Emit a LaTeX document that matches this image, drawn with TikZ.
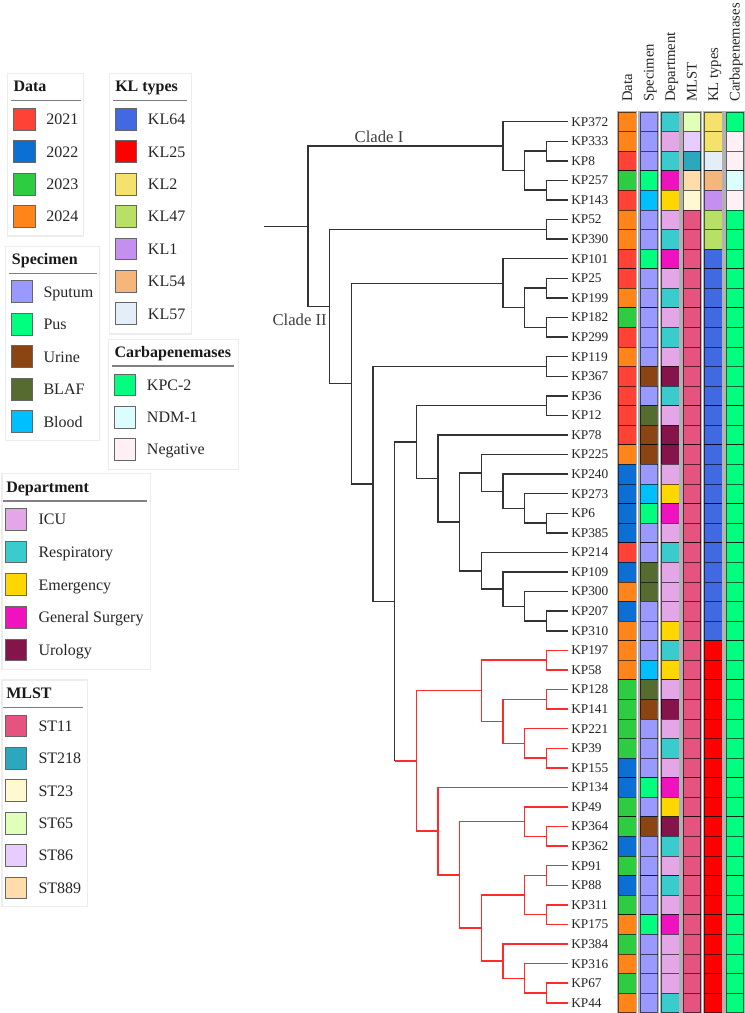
\documentclass[tikz,border=0pt]{standalone}
\usepackage{fontspec}
\setmainfont{Liberation Serif}
\definecolor{y21}{HTML}{FF4136}
\definecolor{y22}{HTML}{0B6FD4}
\definecolor{y23}{HTML}{2ECC40}
\definecolor{y24}{HTML}{FF851B}
\definecolor{sSp}{HTML}{9999FF}
\definecolor{sPu}{HTML}{00FF7F}
\definecolor{sUr}{HTML}{8B4513}
\definecolor{sBA}{HTML}{556B2F}
\definecolor{sBl}{HTML}{00BFFF}
\definecolor{dIC}{HTML}{E3A6E6}
\definecolor{dRe}{HTML}{3ACCCC}
\definecolor{dEm}{HTML}{FFD700}
\definecolor{dGS}{HTML}{F012BE}
\definecolor{dUr}{HTML}{85144B}
\definecolor{m11}{HTML}{E55480}
\definecolor{m218}{HTML}{2CA7BE}
\definecolor{m23}{HTML}{FFF8D0}
\definecolor{m65}{HTML}{E1FFB8}
\definecolor{m86}{HTML}{E6CCFF}
\definecolor{m889}{HTML}{FFDCAA}
\definecolor{k64}{HTML}{4169E1}
\definecolor{k25}{HTML}{FF0000}
\definecolor{k2}{HTML}{F4E26C}
\definecolor{k47}{HTML}{B8E066}
\definecolor{k1}{HTML}{C490F0}
\definecolor{k54}{HTML}{F4B67A}
\definecolor{k57}{HTML}{E3EEF9}
\definecolor{cK}{HTML}{00FF7F}
\definecolor{cN}{HTML}{DCFDFD}
\definecolor{cNg}{HTML}{FFF0F5}
\definecolor{treedark}{HTML}{333333}
\definecolor{treered}{HTML}{FF2B2B}
\begin{document}
\begin{tikzpicture}[x=0.75pt,y=-0.75pt,
  br/.style={draw=treedark,line width=1.1pt},
  rbr/.style={draw=treered,line width=1.1pt},
  leaf/.style={anchor=west,inner sep=0pt,text=black!85,font=\fontsize{10}{12}\selectfont},
  cell/.style={draw=black,draw opacity=0.6,line width=0.45pt},
  colframe/.style={draw=black!30,line width=1.1pt},
  colhead/.style={rotate=90,anchor=base west,inner sep=0pt,text=black!85,font=\fontsize{11}{13}\selectfont},
  clade/.style={inner sep=0pt,text=black!75,font=\fontsize{12.5}{14}\selectfont},
  lgbox/.style={draw=black!7,line width=0.8pt},
  lgline/.style={draw=black!50,line width=0.9pt},
  lgsq/.style={draw=black!60,line width=0.5pt},
  lgtext/.style={anchor=base west,inner sep=0pt,text=black!85,font=\fontsize{12}{14}\selectfont},
  lgtitle/.style={anchor=base west,inner sep=0pt,text=black!90,font=\fontsize{12}{14}\selectfont\bfseries}]
\fill[white] (0,0) rectangle (744,1013);
\path[use as bounding box] (0,0) rectangle (744,1013);

% ---------- rows: labels and heatmap ----------
\foreach \vlab/\vyr/\vsp/\vdep/\vml/\vkl/\vcb [count=\vn] in {
KP372/y24/sSp/dRe/m65/k2/cK,
KP333/y24/sSp/dIC/m86/k2/cNg,
KP8/y21/sSp/dRe/m218/k57/cNg,
KP257/y23/sPu/dGS/m889/k54/cN,
KP143/y21/sBl/dEm/m23/k1/cNg,
KP52/y24/sSp/dIC/m11/k47/cK,
KP390/y24/sSp/dRe/m11/k47/cK,
KP101/y21/sPu/dGS/m11/k64/cK,
KP25/y21/sSp/dIC/m11/k64/cK,
KP199/y24/sSp/dRe/m11/k64/cK,
KP182/y23/sSp/dIC/m11/k64/cK,
KP299/y21/sSp/dRe/m11/k64/cK,
KP119/y24/sSp/dIC/m11/k64/cK,
KP367/y21/sUr/dUr/m11/k64/cK,
KP36/y21/sSp/dRe/m11/k64/cK,
KP12/y21/sBA/dIC/m11/k64/cK,
KP78/y21/sUr/dUr/m11/k64/cK,
KP225/y24/sUr/dUr/m11/k64/cK,
KP240/y22/sSp/dIC/m11/k64/cK,
KP273/y22/sBl/dEm/m11/k64/cK,
KP6/y22/sPu/dGS/m11/k64/cK,
KP385/y22/sSp/dIC/m11/k64/cK,
KP214/y21/sSp/dRe/m11/k64/cK,
KP109/y22/sBA/dIC/m11/k64/cK,
KP300/y24/sBA/dIC/m11/k64/cK,
KP207/y22/sSp/dIC/m11/k64/cK,
KP310/y24/sSp/dEm/m11/k64/cK,
KP197/y24/sSp/dRe/m11/k25/cK,
KP58/y24/sBl/dEm/m11/k25/cK,
KP128/y23/sBA/dIC/m11/k25/cK,
KP141/y23/sUr/dUr/m11/k25/cK,
KP221/y23/sSp/dIC/m11/k25/cK,
KP39/y23/sSp/dRe/m11/k25/cK,
KP155/y22/sSp/dIC/m11/k25/cK,
KP134/y22/sPu/dGS/m11/k25/cK,
KP49/y23/sSp/dEm/m11/k25/cK,
KP364/y23/sUr/dUr/m11/k25/cK,
KP362/y22/sSp/dRe/m11/k25/cK,
KP91/y23/sSp/dIC/m11/k25/cK,
KP88/y22/sSp/dRe/m11/k25/cK,
KP311/y23/sSp/dIC/m11/k25/cK,
KP175/y24/sPu/dGS/m11/k25/cK,
KP384/y23/sSp/dIC/m11/k25/cK,
KP316/y24/sSp/dIC/m11/k25/cK,
KP67/y23/sSp/dIC/m11/k25/cK,
KP44/y24/sSp/dRe/m11/k25/cK} {
  \pgfmathsetmacro\vyy{121.7+19.58*(\vn-1)}
  \node[leaf] (\vlab) at (571,\vyy) {\vlab};
  \coordinate (t\vlab) at (568,\vyy);
  \foreach \vcol [count=\vk from 0] in {\vyr,\vsp,\vdep,\vml,\vkl,\vcb} {
    \pgfmathsetmacro\vxx{618.3+21.54*\vk}
    \filldraw[fill=\vcol,cell] (\vxx,\vyy-9.79) rectangle (\vxx+17.6,\vyy+9.79);
  }
}
% column frames and headers
\foreach \vhd [count=\vk from 0] in {Data,Specimen,Department,MLST,KL types,Carbapenemases} {
  \pgfmathsetmacro\vxx{618.3+21.54*\vk}
  \draw[colframe] (\vxx-0.8,111.5) rectangle (\vxx+18.4,1014);
  \node[colhead] (h\vk) at (\vxx+13.7,102) {\vhd};
}

% ---------- tree ----------
\coordinate (root) at (308,226.34);
\coordinate (stub) at (264,226.34);
\coordinate (CI) at (503,146.18);
\coordinate (c1c) at (524.67,170.65);
\coordinate (c1a) at (546.33,151.07);
\coordinate (c1b) at (546.33,190.23);
\coordinate (CII) at (329.67,306.50);
\coordinate (p52) at (546.33,229.39);
\coordinate (N2) at (351.33,383.60);
\coordinate (A) at (503,283.24);
\coordinate (a3) at (524.67,307.71);
\coordinate (a1) at (546.33,288.13);
\coordinate (a2) at (546.33,327.29);
\coordinate (N3) at (373,483.97);
\coordinate (p119) at (546.33,366.45);
\coordinate (N4) at (394.67,601.49);
\coordinate (N5) at (416.33,442.02);
\coordinate (p36) at (546.33,405.61);
\coordinate (N6) at (438,478.42);
\coordinate (N7) at (459.67,521.87);
\coordinate (N8) at (481.33,472.92);
\coordinate (N10) at (503,491.27);
\coordinate (N11) at (524.67,508.41);
\coordinate (N12) at (546.33,523.09);
\coordinate (N9) at (481.33,570.82);
\coordinate (N13) at (503,589.17);
\coordinate (N14) at (524.67,606.31);
\coordinate (N15) at (546.33,620.99);
\coordinate (R) at (416.33,760.95);
\coordinate (R1) at (481.33,690.74);
\coordinate (r197) at (546.33,660.15);
\coordinate (R3) at (503,721.34);
\coordinate (r128) at (546.33,699.31);
\coordinate (R4) at (524.67,743.37);
\coordinate (r39) at (546.33,758.05);
\coordinate (R2) at (438,831.17);
\coordinate (R5) at (459.67,874.92);
\coordinate (R6) at (524.67,821.69);
\coordinate (r364) at (546.33,836.37);
\coordinate (R7) at (481.33,928.15);
\coordinate (R8) at (524.67,895.11);
\coordinate (r91) at (546.33,875.53);
\coordinate (r311) at (546.33,914.69);
\coordinate (R9) at (503,961.19);
\coordinate (R10) at (524.67,978.33);
\coordinate (r67) at (546.33,993.01);

\draw[br] (stub) -- (root);
\foreach \vp/\vc in {root/CI,root/CII,CI/tKP372,CI/c1c,c1c/c1a,c1c/c1b,
  c1a/tKP333,c1a/tKP8,c1b/tKP257,c1b/tKP143,CII/p52,CII/N2,p52/tKP52,p52/tKP390,
  N2/A,N2/N3,A/tKP101,A/a3,a3/a1,a3/a2,a1/tKP25,a1/tKP199,a2/tKP182,a2/tKP299,
  N3/p119,N3/N4,p119/tKP119,p119/tKP367,N4/N5,N5/p36,N5/N6,p36/tKP36,p36/tKP12,
  N6/tKP78,N6/N7,N7/N8,N7/N9,N8/tKP225,N8/N10,N10/tKP240,N10/N11,N11/tKP273,
  N11/N12,N12/tKP6,N12/tKP385,N9/tKP214,N9/N13,N13/tKP109,N13/N14,N14/tKP300,
  N14/N15,N15/tKP207,N15/tKP310}
  \draw[br] (\vp) |- (\vc);
\draw[br] (N4) -- (N4 |- R);
\draw[rbr] (N4 |- R) -- (R);
\foreach \vp/\vc in {R/R1,R/R2,R1/r197,R1/R3,r197/tKP197,r197/tKP58,R3/r128,R3/R4,
  r128/tKP128,r128/tKP141,R4/tKP221,R4/r39,r39/tKP39,r39/tKP155,R2/tKP134,R2/R5,
  R5/R6,R5/R7,R6/tKP49,R6/r364,r364/tKP364,r364/tKP362,R7/R8,R7/R9,R8/r91,R8/r311,
  r91/tKP91,r91/tKP88,r311/tKP311,r311/tKP175,R9/tKP384,R9/R10,R10/tKP316,R10/r67,
  r67/tKP67,r67/tKP44}
  \draw[rbr] (\vp) |- (\vc);

\node[clade] (cladeI) at (379,137) {Clade I};
\node[clade,anchor=east] (cladeII) at (327,320) {Clade II};

% ---------- legends ----------
% Data
\draw[lgbox] (7.3,73.3) rectangle (83.3,236);
\node[lgtitle] (tData) at (13.3,92) {Data};
\draw[lgline] (11,100.7) -- (80.7,100.7);
\foreach \vnm/\vcol [count=\vi from 0] in {2021/y21,2022/y22,2023/y23,2024/y24} {
  \pgfmathsetmacro\vyc{119.2+32.4*\vi}
  \filldraw[fill=\vcol,lgsq] (13.3,\vyc-10.85) rectangle ++(21.7,21.7);
  \node[lgtext] (ld\vi) at (46,\vyc+5.5) {\vnm};
}
% KL types
\draw[lgbox] (109.3,73.3) rectangle (191.7,334);
\node[lgtitle] (tKL) at (115,92) {KL types};
\draw[lgline] (113.3,100.7) -- (187.3,100.7);
\foreach \vnm/\vcol [count=\vi from 0] in {KL64/k64,KL25/k25,KL2/k2,KL47/k47,KL1/k1,KL54/k54,KL57/k57} {
  \pgfmathsetmacro\vyc{119.2+32.4*\vi}
  \filldraw[fill=\vcol,lgsq] (115,\vyc-10.85) rectangle ++(21.7,21.7);
  \node[lgtext] (lk\vi) at (147.7,\vyc+5.5) {\vnm};
}
% Specimen
\draw[lgbox] (5.7,246.7) rectangle (99.3,440.7);
\node[lgtitle] (tSpec) at (11.7,264.5) {Specimen};
\draw[lgline] (9.3,273.3) -- (96.7,273.3);
\foreach \vnm/\vcol [count=\vi from 0] in {Sputum/sSp,Pus/sPu,Urine/sUr,BLAF/sBA,Blood/sBl} {
  \pgfmathsetmacro\vyc{291.5+32.5*\vi}
  \filldraw[fill=\vcol,lgsq] (11,\vyc-10.85) rectangle ++(21.7,21.7);
  \node[lgtext] (ls\vi) at (43.3,\vyc+5.5) {\vnm};
}
% Carbapenemases
\draw[lgbox] (108.7,339.3) rectangle (238.3,469.3);
\node[lgtitle] (tCarb) at (114.3,357.8) {Carbapenemases};
\draw[lgline] (112.3,366) -- (234.3,366);
\foreach \vnm/\vcol [count=\vi from 0] in {KPC-2/cK,NDM-1/cN,Negative/cNg} {
  \pgfmathsetmacro\vyc{384.7+32.3*\vi}
  \filldraw[fill=\vcol,lgsq] (114,\vyc-10.85) rectangle ++(21.7,21.7);
  \node[lgtext] (lc\vi) at (146.7,\vyc+5.5) {\vnm};
}
% Department
\draw[lgbox] (2,473.3) rectangle (150.7,669.3);
\node[lgtitle] (tDep) at (6,492.2) {Department};
\draw[lgline] (3.3,501) -- (146.7,501);
\foreach \vnm/\vcol [count=\vi from 0] in {ICU/dIC,Respiratory/dRe,Emergency/dEm,General Surgery/dGS,Urology/dUr} {
  \pgfmathsetmacro\vyc{519.3+32.6*\vi}
  \filldraw[fill=\vcol,lgsq] (5,\vyc-10.85) rectangle ++(21.7,21.7);
  \node[lgtext] (lp\vi) at (38.3,\vyc+5.5) {\vnm};
}
% MLST
\draw[lgbox] (2,680) rectangle (87.7,906.7);
\node[lgtitle] (tMLST) at (6,698.2) {MLST};
\draw[lgline] (3.3,707.3) -- (83.3,707.3);
\foreach \vnm/\vcol [count=\vi from 0] in {ST11/m11,ST218/m218,ST23/m23,ST65/m65,ST86/m86,ST889/m889} {
  \pgfmathsetmacro\vyc{725.8+32.4*\vi}
  \filldraw[fill=\vcol,lgsq] (5,\vyc-10.85) rectangle ++(21.7,21.7);
  \node[lgtext] (lm\vi) at (38.3,\vyc+5.5) {\vnm};
}
\end{tikzpicture}
\end{document}
